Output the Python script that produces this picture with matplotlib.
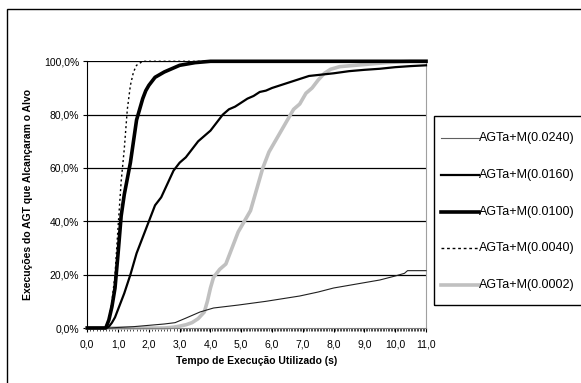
import numpy as np
import matplotlib
matplotlib.use("Agg")
import matplotlib.pyplot as plt
from matplotlib.ticker import FuncFormatter, FixedLocator
from matplotlib.patches import Rectangle
from matplotlib.lines import Line2D

plt.rcParams['font.family'] = ['Liberation Sans', 'DejaVu Sans']

# series (time in s, % of runs that reached the target)
t_0240 = [0.0, 0.7, 1.0, 1.5, 2.0, 2.5, 2.85, 3.2, 3.66, 4.1, 4.9, 5.8, 6.9, 7.5, 8.0, 8.5, 9.0, 9.5, 10.0, 10.3, 10.4, 11.0]
p_0240 = [0.0, 0.0, 0.2, 0.5, 1.0, 1.5, 2.0, 3.7, 6.0, 7.5, 8.6, 10.0, 12.0, 13.5, 15.0, 16.0, 17.0, 18.0, 19.5, 20.5, 21.5, 21.5]

t_0160 = [0.0, 0.6, 0.7, 0.8, 0.9, 1.0, 1.2, 1.4, 1.6, 1.8, 2.0, 2.2, 2.4, 2.6, 2.8, 3.0, 3.2, 3.4, 3.6, 3.8, 4.0,
          4.2, 4.4, 4.6, 4.8, 5.0, 5.2, 5.4, 5.6, 5.8, 6.0, 6.4, 6.8, 7.2, 7.6, 8.0, 8.5, 9.0, 9.5, 10.0, 10.5, 11.0]
p_0160 = [0.0, 0.0, 0.5, 2.0, 4.0, 7.0, 13.0, 20.0, 28.0, 34.0, 40.0, 46.0, 49.0, 54.0, 59.0, 62.0, 64.0, 67.0, 70.0, 72.0, 74.0,
          77.0, 80.0, 82.0, 83.0, 84.5, 86.0, 87.0, 88.5, 89.0, 90.0, 91.5, 93.0, 94.5, 95.0, 95.5, 96.3, 96.8, 97.2, 97.8, 98.2, 98.5]

t_0100 = [0.0, 0.6, 0.7, 0.8, 0.9, 1.0, 1.1, 1.2, 1.3, 1.4, 1.5, 1.6, 1.7, 1.8, 1.9, 2.0, 2.2, 2.5, 2.7, 3.0, 3.5, 4.0, 11.0]
p_0100 = [0.0, 0.0, 3.0, 8.0, 15.0, 28.0, 42.0, 50.0, 56.0, 62.0, 70.0, 78.0, 82.0, 86.0, 89.0, 91.0, 94.0, 96.0, 97.0, 98.5, 99.5, 100.0, 100.0]

t_0040 = [0.0, 0.5, 0.6, 0.7, 0.8, 0.9, 1.0, 1.1, 1.2, 1.3, 1.4, 1.5, 1.6, 1.8, 11.0]
p_0040 = [0.0, 0.0, 0.5, 3.0, 10.0, 20.0, 38.0, 55.0, 67.0, 82.0, 91.0, 96.0, 98.5, 100.0, 100.0]

t_0002 = [0.0, 2.5, 2.8, 3.0, 3.2, 3.4, 3.6, 3.8, 3.9, 4.0, 4.1, 4.3, 4.5, 4.7, 4.9, 5.1, 5.3, 5.5, 5.7, 5.9,
          6.1, 6.3, 6.5, 6.7, 6.9, 7.1, 7.3, 7.5, 7.7, 7.9, 8.2, 8.7, 9.2, 9.7, 10.5, 11.0]
p_0002 = [0.0, 0.0, 0.3, 0.7, 1.2, 2.0, 3.5, 6.0, 10.0, 15.0, 19.0, 22.0, 24.0, 30.0, 36.0, 40.0, 44.0, 52.0, 60.0, 66.0,
          70.0, 74.0, 78.0, 82.0, 84.0, 88.0, 90.0, 93.0, 95.5, 97.0, 98.0, 98.5, 99.0, 99.5, 100.0, 100.0]

labels = ['AGTa+M(0.0240)', 'AGTa+M(0.0160)', 'AGTa+M(0.0100)', 'AGTa+M(0.0040)', 'AGTa+M(0.0002)']

W, H = 581, 383
fig = plt.figure(figsize=(W / 100, H / 100), dpi=100)
ax = fig.add_axes([87.3 / W, 55 / H, (426 - 87.3) / W, (328 - 61.3) / H])

# outer chart frame (cut off on the right and bottom)
fig.patches.append(Rectangle((7 / W, -0.1), 1.2, (H - 9) / H + 0.1, transform=fig.transFigure,
                             fill=False, edgecolor='black', linewidth=1.0))

styles = [
    dict(color='#202020', lw=0.8),
    dict(color='black', lw=1.6),
    dict(color='black', lw=2.6),
    dict(color='black', lw=1.0, linestyle=(0, (1.5, 2))),
    dict(color='#c0c0c0', lw=2.6),
]
series = [(t_0240, p_0240), (t_0160, p_0160), (t_0100, p_0100), (t_0040, p_0040), (t_0002, p_0002)]
zorders = [3, 3, 4, 5, 2]
for (t, p), st, z in zip(series, styles, zorders):
    ax.plot(t, p, clip_on=False, zorder=z, **st)

ax.set_xlim(0, 11)
ax.set_ylim(0, 100)
ax.set_yticks([0, 20, 40, 60, 80, 100])
ax.set_xticks(np.arange(0, 12, 1))
ax.xaxis.set_minor_locator(FixedLocator(list(np.arange(0, 3, 0.1)) + list(np.arange(3, 11.01, 0.05))))
ax.yaxis.set_major_formatter(FuncFormatter(lambda v, p: f"{v:.1f}%".replace('.', ',')))
ax.xaxis.set_major_formatter(FuncFormatter(lambda v, p: f"{v:.1f}".replace('.', ',')))
ax.tick_params(axis='both', labelsize=7.5, length=3, width=0.8, color='black', pad=3)
ax.tick_params(axis='x', which='minor', length=2.5, width=0.6, color='#303030')
ax.tick_params(axis='x', which='major', length=3, pad=5)

for v in [20, 40, 60, 80, 100]:
    ax.axhline(v, color='black', lw=0.9, zorder=1)

ax.spines['left'].set_color('black')
ax.spines['bottom'].set_color('#808080')
ax.spines['right'].set_color('#a0a0a0')
ax.spines['top'].set_visible(False)

ax.set_xlabel('Tempo de Execução Utilizado (s)', fontsize=7.5, fontweight='bold', labelpad=5)
ax.set_ylabel('Execuções do AGT que Alcançaram o Alvo', fontsize=7.5, fontweight='bold', labelpad=8)

# legend box, drawn by hand so it sits like the original (right side runs off the chart)
fig.patches.append(Rectangle((434 / W, (H - 305) / H), 0.5, (305 - 116) / H, transform=fig.transFigure,
                             fill=False, edgecolor='black', linewidth=1.0))
for i, (lab, st) in enumerate(zip(labels, styles)):
    yy = (H - (138 + i * 36.75)) / H
    st = dict(st)
    if i == 3:
        st['linestyle'] = (0, (2, 2))
    if i == 0:
        st['color'] = '#606060'
    fig.add_artist(Line2D([441 / W, 479 / W], [yy, yy], transform=fig.transFigure, **st))
    fig.text(479 / W, yy, lab, fontsize=9, ha='left', va='center')

fig.savefig('out.png', dpi=100)
